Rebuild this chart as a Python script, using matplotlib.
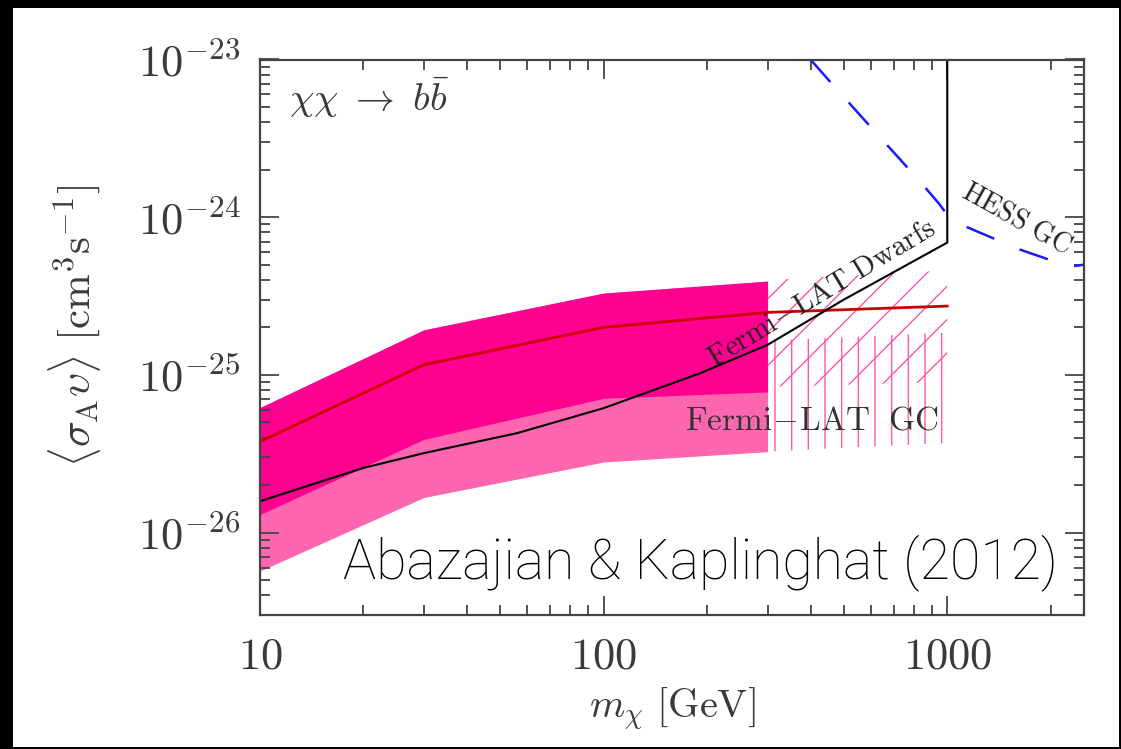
import numpy as np
import matplotlib.pyplot as plt
from matplotlib.patches import Rectangle
from matplotlib.ticker import FixedLocator, FuncFormatter, NullFormatter

plt.rcParams['mathtext.fontset'] = 'cm'
plt.rcParams['hatch.linewidth'] = 1.0

# Fermi-LAT GC bands (m < 300 GeV)
mass_gc = [10, 30, 100, 300]
gc_1s_hi = [6.2e-26, 1.93e-25, 3.3e-25, 3.93e-25]
gc_1s_lo = [1.30e-26, 3.9e-26, 7.1e-26, 7.8e-26]
gc_2s_lo = [5.7e-27, 1.67e-26, 2.8e-26, 3.26e-26]

# hatched continuation 300-1000 GeV
mass_h = [300, 1000]
hatch_1s_hi = [4.0e-25, 4.6e-25]
hatch_1s_lo = [8.4e-26, 9.0e-26]
hatch_2s_hi = [1.65e-25, 1.85e-25]
hatch_2s_lo = [3.26e-26, 3.7e-26]

# best fit (red)
mass_fit = [10, 30, 100, 300, 1000]
fit = [3.77e-26, 1.16e-25, 2.0e-25, 2.49e-25, 2.73e-25]

# Fermi-LAT dwarfs limit
mass_dw = [10, 20, 30, 56, 100, 190, 300, 500, 1000, 1000]
dwarfs = [1.58e-26, 2.57e-26, 3.19e-26, 4.27e-26, 6.15e-26, 1.02e-25,
          1.55e-25, 3.0e-25, 6.9e-25, 2e-23]

# HESS GC limit
mass_hess = [400, 462, 617, 722, 826, 946, 1005, 1106, 1622, 2270, 2500]
hess = [1e-23, 7.0e-24, 3.47e-24, 2.38e-24, 1.72e-24, 1.22e-24, 1.02e-24,
        8.9e-25, 6.25e-25, 4.85e-25, 5.0e-25]

x_major = [10, 100, 1000]
y_major = [1e-26, 1e-25, 1e-24, 1e-23]

fig = plt.figure(figsize=(11.21, 7.49), dpi=100)
fig.patch.set_facecolor('black')
fig.add_artist(Rectangle((13/1121, 2/749), (1119-13)/1121, 739/749,
                         transform=fig.transFigure, facecolor='white',
                         edgecolor='none', zorder=-1))

ax = fig.add_axes([260/1121, 1-615/749, (1084-260)/1121, (615-59.5)/749])
ax.set_xscale('log')
ax.set_yscale('log')
ax.set_xlim(10, 2500)
ax.set_ylim(3e-27, 1e-23)

pink_dark = '#ff0090'
pink_light = '#ff66b0'
pink_hatch = '#ff55a8'

ax.fill_between(mass_gc, gc_2s_lo, gc_1s_hi, color=pink_light, lw=0)
ax.fill_between(mass_gc, gc_1s_lo, gc_1s_hi, color=pink_dark, lw=0)
ax.fill_between(mass_h, hatch_2s_lo, hatch_2s_hi, facecolor='none',
                edgecolor=pink_hatch, hatch='|', lw=0)
ax.fill_between(mass_h, hatch_1s_lo, hatch_1s_hi, facecolor='none',
                edgecolor=pink_hatch, hatch='/', lw=0)

ax.plot(mass_fit, fit, color='#cc0000', lw=2)
ax.plot(mass_dw, dwarfs, color='black', lw=1.5)
ax.plot(mass_hess, hess, color='#1a1aff', lw=1.8, dashes=(12, 11))

# axes styling
for s in ax.spines.values():
    s.set_color('#444444')
    s.set_linewidth(1.6)
ax.xaxis.set_major_locator(FixedLocator(x_major))
ax.xaxis.set_minor_locator(FixedLocator([k * 10**d for d in (1, 2, 3)
                                         for k in range(2, 10)]))
ax.yaxis.set_major_locator(FixedLocator(y_major))
ax.yaxis.set_minor_locator(FixedLocator([k * 10.0**d for d in range(-27, -23)
                                         for k in range(2, 10)]))
ax.xaxis.set_major_formatter(FuncFormatter(lambda v, p: r'$%d$' % round(v)))
ax.yaxis.set_major_formatter(FuncFormatter(
    lambda v, p: r'$10^{%d}$' % round(np.log10(v))))
ax.xaxis.set_minor_formatter(NullFormatter())
ax.yaxis.set_minor_formatter(NullFormatter())
ax.tick_params(which='both', direction='in', top=True, right=True,
               color='#444444', width=1.3, labelcolor='#3a3a3a')
ax.tick_params(which='major', length=14, labelsize=32)
ax.tick_params(which='minor', length=7)
ax.tick_params(axis='x', which='major', pad=14)
ax.tick_params(axis='y', which='major', pad=14)

ax.set_xlabel(r'$m_\chi\ [\mathrm{GeV}]$', fontsize=29, color='#3a3a3a')
ax.xaxis.set_label_coords(0.5, -0.128)
ax.set_ylabel(r'$\langle\sigma_\mathrm{A}\upsilon\rangle\ [\mathrm{cm}^3\mathrm{s}^{-1}]$',
              fontsize=31, color='#3a3a3a')
ax.yaxis.set_label_coords(-0.19, 0.52)

ax.text(0.035, 0.93, r'$\chi\chi\ \rightarrow\ b\bar{b}$', transform=ax.transAxes,
        fontsize=28, color='#3a3a3a', va='center', ha='left')
ax.text(405, 5.2e-26, r'$\mathrm{Fermi\!-\!LAT\ \ GC}$', fontsize=24,
        color='#333333', va='center', ha='center')
ax.text(431, 3.3e-25, r'$\mathrm{Fermi\!-\!LAT\ Dwarfs}$', fontsize=21,
        color='#222222', va='center', ha='center', rotation=31)
ax.text(1600, 9.9e-25, r'$\mathrm{HESS\ GC}$', fontsize=20,
        color='#222222', va='center', ha='center', rotation=-29)

fig.text(1058/1121, 1-578/749, 'Abazajian & Kaplinghat (2012)',
         fontsize=40, family='Roboto', fontweight='light', color='black',
         ha='right', va='baseline')

fig.savefig('out.png', dpi=100, facecolor=fig.get_facecolor())
